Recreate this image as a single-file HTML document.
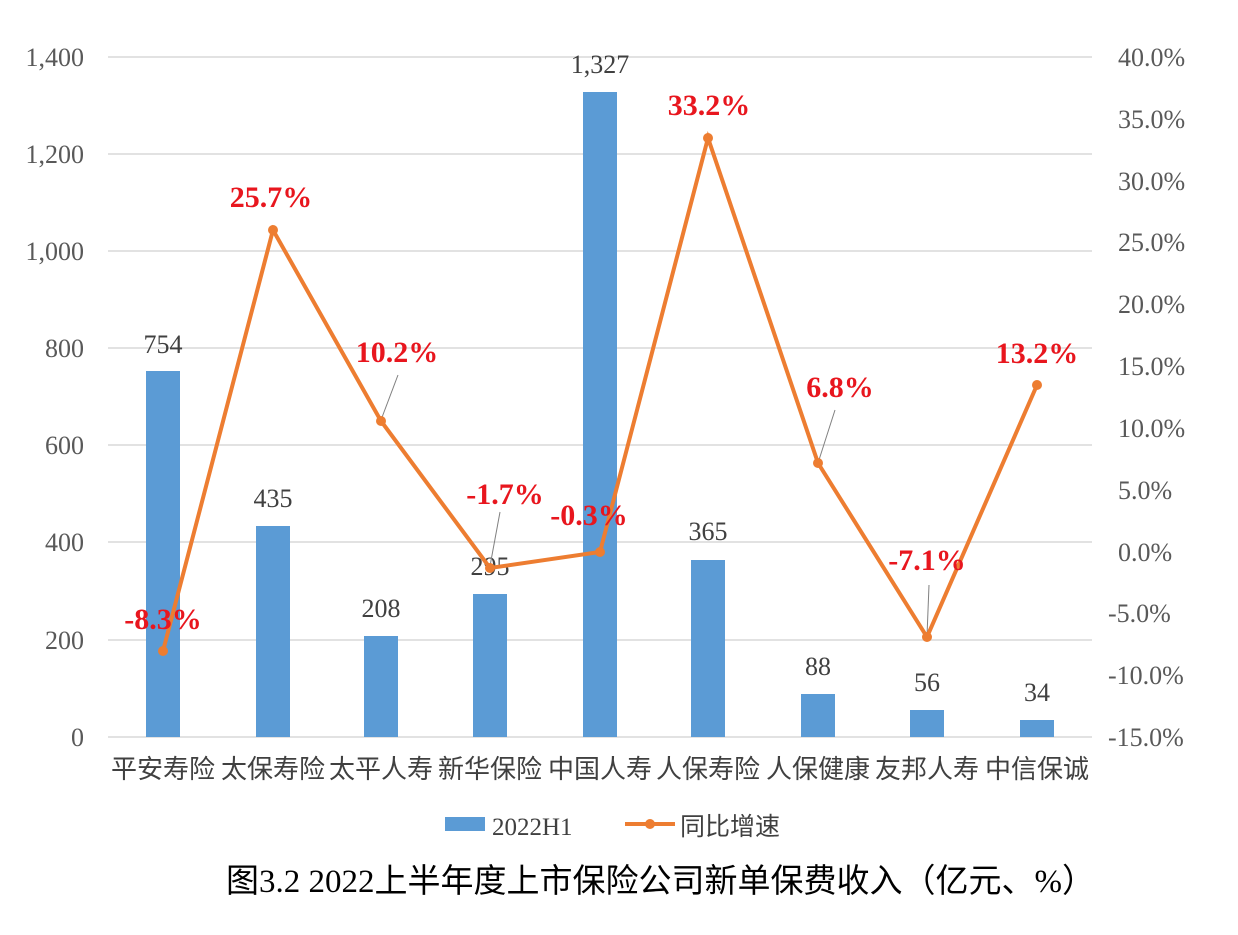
<!DOCTYPE html>
<html><head><meta charset="utf-8"><style>body{margin:0;background:#fff}</style></head><body>
<svg width="1238" height="930" xmlns="http://www.w3.org/2000/svg" font-family="Liberation Serif, Noto Serif CJK SC, serif">
<rect width="1238" height="930" fill="#fff"/>
<g stroke="#d9d9d9" stroke-width="1.5">
<line x1="108" x2="1092" y1="57" y2="57"/><line x1="108" x2="1092" y1="154" y2="154"/>
<line x1="108" x2="1092" y1="251" y2="251"/><line x1="108" x2="1092" y1="348" y2="348"/>
<line x1="108" x2="1092" y1="445" y2="445"/><line x1="108" x2="1092" y1="542" y2="542"/>
<line x1="108" x2="1092" y1="640" y2="640"/><line x1="108" x2="1092" y1="737" y2="737"/>
</g>
<g fill="#595959" font-size="26" text-anchor="end">
<text x="84" y="66">1,400</text><text x="84" y="163">1,200</text><text x="84" y="260">1,000</text>
<text x="84" y="357">800</text><text x="84" y="454">600</text><text x="84" y="551">400</text>
<text x="84" y="649">200</text><text x="84" y="746">0</text>
</g>
<g fill="#595959" font-size="26" text-anchor="start">
<text x="1118" y="66">40.0%</text><text x="1118" y="128">35.0%</text><text x="1118" y="190">30.0%</text>
<text x="1118" y="251">25.0%</text><text x="1118" y="313">20.0%</text><text x="1118" y="375">15.0%</text>
<text x="1118" y="437">10.0%</text><text x="1118" y="499">5.0%</text><text x="1118" y="561">0.0%</text>
<text x="1108" y="622">-5.0%</text><text x="1108" y="684">-10.0%</text><text x="1108" y="746">-15.0%</text>
</g>
<g fill="#5b9bd5">
<rect x="146" y="371" width="34" height="366"/><rect x="256" y="526" width="34" height="211"/>
<rect x="364" y="636" width="34" height="101"/><rect x="473" y="594" width="34" height="143"/>
<rect x="583" y="92" width="34" height="645"/><rect x="691" y="560" width="34" height="177"/>
<rect x="801" y="694" width="34" height="43"/><rect x="910" y="710" width="34" height="27"/>
<rect x="1020" y="720" width="34" height="17"/>
</g>
<g fill="#404040" font-size="26" text-anchor="middle">
<text x="163" y="353">754</text><text x="273" y="507">435</text><text x="381" y="617">208</text>
<text x="490" y="575">295</text><text x="600" y="73">1,327</text><text x="708" y="540">365</text>
<text x="818" y="675">88</text><text x="927" y="691">56</text><text x="1037" y="701">34</text>
</g>
<g stroke="#808080" stroke-width="1"><line x1="381" y1="420" x2="398" y2="375"/><line x1="490" y1="566" x2="500" y2="512"/><line x1="818" y1="463" x2="835" y2="410"/><line x1="927" y1="636" x2="929" y2="585"/></g>
<polyline fill="none" stroke="#ed7d31" stroke-width="4" points="163,651 273,230 381,421 490,568 600,552 708,138 818,463 927,637 1037,385"/>
<g fill="#ed7d31"><circle cx="163" cy="651" r="5"/><circle cx="273" cy="230" r="5"/><circle cx="381" cy="421" r="5"/><circle cx="490" cy="568" r="5"/><circle cx="600" cy="552" r="5"/><circle cx="708" cy="138" r="5"/><circle cx="818" cy="463" r="5"/><circle cx="927" cy="637" r="5"/><circle cx="1037" cy="385" r="5"/></g>
<g fill="#e8161e" font-size="30" font-weight="bold" text-anchor="middle">
<text x="163" y="629">-8.3%</text><text x="271" y="207">25.7%</text><text x="397" y="362">10.2%</text>
<text x="505" y="504">-1.7%</text><text x="589" y="525">-0.3%</text><text x="709" y="115">33.2%</text>
<text x="840" y="397">6.8%</text><text x="927" y="570">-7.1%</text><text x="1037" y="363">13.2%</text>
</g>
<g fill="#404040" font-size="26" text-anchor="middle" font-family="Liberation Serif, Noto Sans CJK SC, sans-serif">
<text x="163" y="778">平安寿险</text><text x="273" y="778">太保寿险</text><text x="381" y="778">太平人寿</text>
<text x="490" y="778">新华保险</text><text x="600" y="778">中国人寿</text><text x="708" y="778">人保寿险</text>
<text x="818" y="778">人保健康</text><text x="927" y="778">友邦人寿</text><text x="1037" y="778">中信保诚</text>
</g>
<rect x="445" y="817" width="40" height="14" fill="#5b9bd5"/>
<text x="492" y="835" fill="#404040" font-size="25">2022H1</text>
<line x1="625" y1="824" x2="675" y2="824" stroke="#ed7d31" stroke-width="4"/><circle cx="650" cy="824" r="5" fill="#ed7d31"/>
<text x="680" y="835" fill="#404040" font-size="25" font-family="Liberation Sans, Noto Sans CJK SC, sans-serif">同比增速</text>
<text x="226" y="892" fill="#000" font-size="33" font-family="Liberation Serif, Noto Sans CJK SC, sans-serif">图3.2 2022上半年度上市保险公司新单保费收入（亿元、%）</text>
</svg>
</body></html>
